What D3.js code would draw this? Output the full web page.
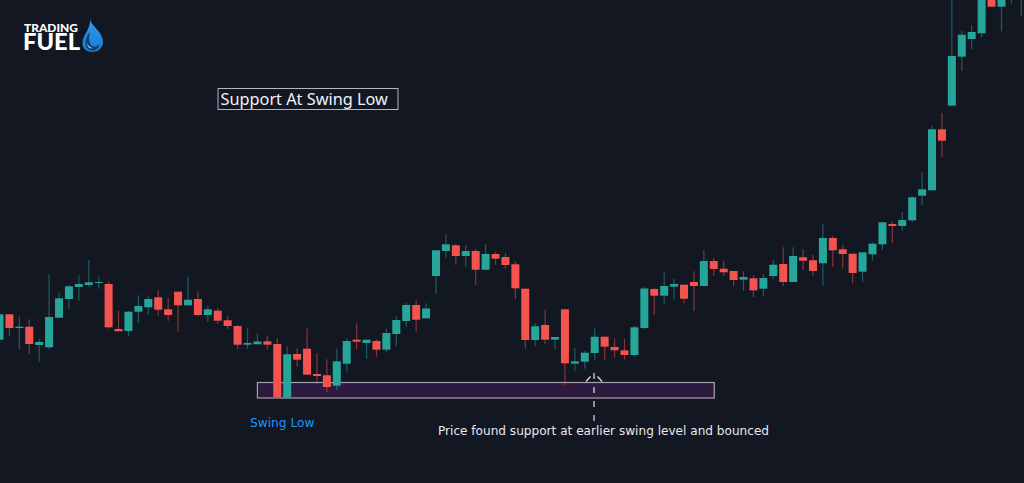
<!DOCTYPE html>
<html>
<head>
<meta charset="utf-8">
<title>Support At Swing Low</title>
<script src="https://d3js.org/d3.v7.min.js"></script>
<style>
  html, body { margin: 0; padding: 0; background: #131722; overflow: hidden; }
  svg { display: block; }
  text { font-family: "DejaVu Sans", sans-serif; }
</style>
</head>
<body>
<div id="chart"></div>
<script>
(() => {
  // Candle values, one entry per session
  const open = [143.3, 168.7, 155, 156.3, 138, 135.7, 165.3, 184, 196, 198, 200, 199, 154, 152, 171.3, 175.7, 185.7, 173.7, 191.3, 177.7, 184, 168, 172.3, 162.7, 157, 138.3, 138.8, 141.7, 139, 85.7, 129, 134.3, 109, 107.7, 97.3, 119.3, 143.3, 140, 142, 133.3, 149, 162, 178, 164.7, 207, 232, 237.7, 227, 232, 213.3, 229, 226, 218.7, 194.3, 143, 158, 143.3, 173.7, 119.3, 121.3, 130, 146.3, 136, 132.7, 128, 155, 194, 187.3, 196.3, 198.3, 201, 197, 222, 214.3, 212, 203.3, 204.7, 194.3, 207, 219, 201, 225.7, 222.7, 219.7, 245, 233.7, 229.3, 211.3, 228.7, 238.7, 259, 257, 262.7, 287.3, 292.7, 353.7, 377.3, 426.3, 444, 449.7, 488, 476.3, 484, 486]
  const high = [171, 169, 166.3, 163.7, 143.7, 209, 190.3, 197.7, 207.7, 223, 206.3, 201.7, 172, 172, 187.7, 186.7, 193, 185, 191.3, 206.3, 191.7, 177, 175, 167.3, 157.7, 154.5, 149.3, 147, 144.7, 137, 134.7, 154.7, 129.7, 123.7, 134.3, 144.7, 159.7, 143.3, 143.7, 154.3, 167.3, 180, 183, 179.7, 232.7, 248.7, 239, 238, 234, 239, 231, 230, 221.7, 194.3, 159.7, 173, 146, 173.7, 134.7, 132.3, 154.3, 146.3, 144.7, 144, 157, 196.5, 195.3, 211, 204, 198.3, 211.7, 233, 225, 222.3, 212, 211.7, 207.7, 209, 223, 235.7, 235.7, 233.7, 228, 259, 247, 238, 229.3, 230.7, 240.7, 261.3, 261.3, 271, 286.7, 310.7, 357, 370, 488, 452, 457.7, 490, 492, 490, 495, 495]
  const low = [134, 147, 134, 129, 121.3, 133.7, 165.3, 174, 182.3, 196.3, 194.3, 154.3, 151.7, 146.7, 160, 168, 167.3, 162, 151.3, 177.7, 166.7, 161.3, 159, 154, 133.7, 133.7, 138.8, 133.7, 85.7, 84, 116.3, 108.3, 99, 91, 93, 111.7, 133.7, 124, 126.3, 131, 137, 156.3, 151, 164.7, 189, 225.3, 218.3, 216, 198, 213.3, 218.3, 214.3, 184, 134.3, 137, 139, 133.7, 98, 111.7, 114.3, 123, 122.7, 125, 123.3, 126, 154, 168, 179, 183.7, 179.7, 172, 197, 207, 207, 197, 192, 186, 186.7, 204, 197, 201, 213, 207, 197, 216, 214.3, 199.7, 201, 222.3, 233, 240, 252.3, 260.7, 278, 292.7, 326, 377.3, 412, 434, 445.3, 476.3, 451.7, 479.7, 467.3]
  const close = [168.7, 155, 156.3, 139, 141, 166, 184.7, 196.7, 199, 200.7, 201, 155.7, 151.7, 171.3, 177, 184, 173.3, 168, 177.7, 183.3, 168, 173.7, 162.3, 157, 138.3, 140, 141.5, 138.3, 85.7, 128.7, 123.3, 108.3, 107, 96, 121.7, 142, 141.3, 143.3, 133.3, 150, 163, 178, 163.3, 174.5, 232.7, 238.7, 227, 232, 213.3, 229, 224.3, 218, 194.7, 143, 156.7, 143.3, 146, 119.7, 121.7, 130.3, 146.3, 136.3, 132.7, 128, 155.7, 194.5, 187.3, 197, 199, 184.3, 197, 222, 214, 210.7, 203, 206, 192.7, 205, 218.3, 201, 227, 222.3, 212, 245, 232.7, 229, 210, 230.7, 239.3, 260.7, 257, 263, 285.7, 293.7, 353.7, 342.3, 427, 448.3, 451, 486, 476.3, 487, 488, 490]

  // Annotation levels, in the same price and session units as the candles
  const zonePrices = [85, 100.5]
  const zoneSessions = [26, 72.05]
  const arrowSession = 59.93
  const arrowPrices = [61, 110]

  const WIDTH = 1024
  const HEIGHT = 483
  const BODY_W = 8
  const UP = '#26a69a'
  const DOWN = '#f55350'

  const candles = d3.range(open.length).map(i => ({
    i, open: open[i], high: high[i], low: low[i], close: close[i]
  }))

  const x = d3.scaleLinear().domain([0, 103]).range([-0.5, 1021.3])
  const y = d3.scaleLinear().domain([0, HEIGHT]).range([HEIGHT, 0])
  const color = d => d.close >= d.open ? UP : DOWN

  const svg = d3.select('#chart').append('svg')
    .attr('width', WIDTH)
    .attr('height', HEIGHT)
    .attr('viewBox', `0 0 ${WIDTH} ${HEIGHT}`)

  const defs = svg.append('defs')
  const grad = defs.append('linearGradient')
    .attr('id', 'drop')
    .attr('x1', 0).attr('x2', 0).attr('y1', 0).attr('y2', 1)
  grad.append('stop').attr('offset', '0%').attr('stop-color', '#2f9df2')
  grad.append('stop').attr('offset', '100%').attr('stop-color', '#1a78d2')

  // Support zone sits behind the candles
  svg.append('rect')
    .attr('x', x(zoneSessions[0]))
    .attr('y', y(zonePrices[1]))
    .attr('width', x(zoneSessions[1]) - x(zoneSessions[0]))
    .attr('height', y(zonePrices[0]) - y(zonePrices[1]))
    .attr('fill', '#2f1a3f')
    .attr('stroke', '#a79fb0')
    .attr('stroke-width', 1.2)

  svg.append('g').selectAll('line')
    .data(candles)
    .join('line')
    .attr('x1', d => x(d.i))
    .attr('x2', d => x(d.i))
    .attr('y1', d => y(d.high))
    .attr('y2', d => y(d.low))
    .attr('stroke', color)
    .attr('stroke-opacity', 0.5)
    .attr('stroke-width', 1.2)

  svg.append('g').selectAll('rect')
    .data(candles)
    .join('rect')
    .attr('x', d => x(d.i) - BODY_W / 2)
    .attr('y', d => y(Math.max(d.open, d.close)))
    .attr('width', BODY_W)
    .attr('height', d => Math.abs(y(d.open) - y(d.close)))
    .attr('fill', color)

  // Dashed arrow from the note up to the bounce
  const arrowX = x(arrowSession)
  const tip = y(arrowPrices[1])
  svg.append('line')
    .attr('x1', arrowX).attr('x2', arrowX)
    .attr('y1', tip).attr('y2', y(arrowPrices[0]))
    .attr('stroke', '#e0e3eb')
    .attr('stroke-width', 1.2)
    .attr('stroke-dasharray', '6 8')
  for (const side of [-1, 1]) {
    svg.append('line')
      .attr('x1', arrowX + side * 3.5).attr('y1', tip + 3.5)
      .attr('x2', arrowX + side * 8).attr('y2', tip + 8.5)
      .attr('stroke', '#e0e3eb')
      .attr('stroke-width', 1.2)
  }

  // Labels
  svg.append('rect')
    .attr('x', 218).attr('y', 88.5)
    .attr('width', 180).attr('height', 21)
    .attr('fill', 'none')
    .attr('stroke', '#b2b5be')
  svg.append('text')
    .attr('x', 220.5).attr('y', 104.5)
    .attr('font-size', 16.3)
    .attr('fill', '#f0f3fa')
    .style('font-family', '"Noto Sans"')
    .text('Support At Swing Low')
  svg.append('text')
    .attr('x', 250).attr('y', 427)
    .attr('font-size', 12.2)
    .attr('fill', '#2196f3')
    .text('Swing Low')
  svg.append('text')
    .attr('x', 438).attr('y', 435)
    .attr('font-size', 12.1)
    .attr('fill', '#e6e8ee')
    .text('Price found support at earlier swing level and bounced')

  // Logo
  const logo = svg.append('g')
  logo.append('text')
    .attr('x', 24).attr('y', 31.5)
    .attr('font-size', 11)
    .attr('font-weight', 900)
    .attr('fill', '#fff')
    .attr('textLength', 54)
    .attr('lengthAdjust', 'spacingAndGlyphs')
    .style('font-family', 'Lato')
    .text('TRADING')
  logo.append('text')
    .attr('x', 23).attr('y', 50.3)
    .attr('font-size', 22.5)
    .attr('font-weight', 900)
    .attr('fill', '#fff')
    .attr('textLength', 57)
    .attr('lengthAdjust', 'spacingAndGlyphs')
    .style('font-family', 'Lato')
    .text('FUEL')
  logo.append('path')
    .attr('d', 'M90 18C90 26 103 31 103 42C103 48 98 52 92 52C86 52 82 48 82.500 42C83 35 91 29 90 18Z')
    .attr('fill', 'url(#drop)')
  logo.append('path')
    .attr('d', 'M90 31C87 36 85 40 85.500 44C86 48 89 50.500 92 50.500C96 50.500 99 48 99.500 44C97 47 93 47.500 91 45C88.500 42 89 36 90 31Z')
    .attr('fill', '#0e3f73')
  logo.append('path')
    .attr('d', 'M87.500 43C88 46 90 47.500 92.500 48C90 49 87 47 87.500 43Z')
    .attr('fill', '#bfe3fb')
})()
</script>
</body>
</html>
